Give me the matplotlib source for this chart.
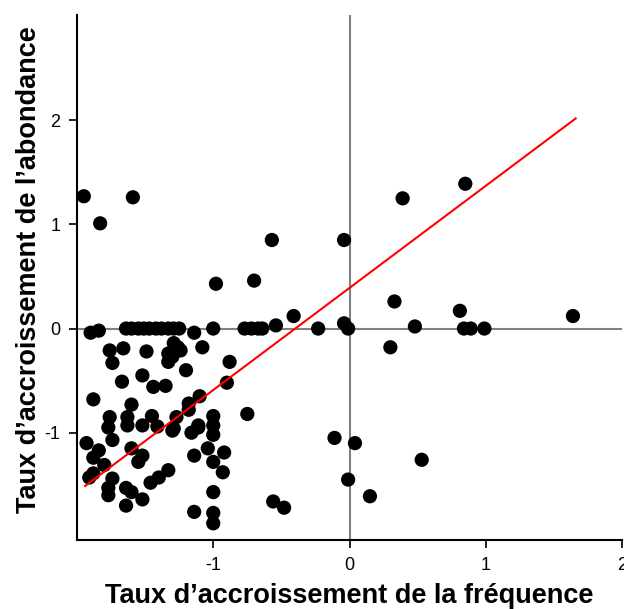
import matplotlib
matplotlib.use("Agg")
import matplotlib.pyplot as plt
import numpy as np

plt.rcParams['font.family'] = ['Liberation Sans', 'DejaVu Sans']

# Growth rate of frequency (x) and of abundance (y) per species
x_freq = [-1.95, -1.83, -1.59, -0.57, -0.98, -0.70, -0.04, 0.39, 0.85, -0.41,
          0.33, 0.81, 1.64, 0.48, 0.84, 0.89, 0.99, 0.30, -0.23, -0.04,
          -0.01, -0.54, -0.77, -0.72, -0.67, -0.64, -1.00, -1.64, -1.60, -1.55,
          -1.51, -1.47, -1.42, -1.38, -1.33, -1.29, -1.25, -1.90, -1.84,
          -1.76, -1.66, -1.74, -1.49, -1.29, -1.33, -1.33, -1.52, -1.67, -1.44,
          -1.35, -1.88, -1.60, -1.76, -1.63, -1.45,
          -1.14, -1.26, -1.24, -1.08, -1.30, -0.88, -1.20, -0.90, -1.10, -1.18,
          -1.18, -1.27, -0.75, -1.00, -1.11,
          -1.77, -1.63, -1.52, -1.41, -1.29, -1.93, -1.74, -1.84, -1.88, -1.60,
          -1.52, -1.55, -1.80, -1.88, -1.91, -1.74, -1.77, -1.77, -1.64, -1.60,
          -1.52, -1.64, -1.46, -1.40, -1.33,
          -1.30, -1.16, -1.11, -1.00, -1.00, -1.04, -0.92, -1.14, -1.00, -0.93,
          -1.00, -1.14, -1.00, -1.00, -0.56,
          -0.11, 0.04, 0.53, -0.01, 0.15, -0.48]
y_abund = [1.27, 1.01, 1.26, 0.85, 0.43, 0.46, 0.85, 1.25, 1.39, 0.12,
           0.26, 0.17, 0.12, 0.02, 0.0, 0.0, 0.0, -0.18, 0.0, 0.05,
           0.0, 0.03, 0.0, 0.0, 0.0, 0.0, 0.0, 0.0, 0.0, 0.0,
           0.0, 0.0, 0.0, 0.0, 0.0, 0.0, 0.0, -0.04, -0.02,
           -0.21, -0.19, -0.33, -0.22, -0.14, -0.24, -0.32, -0.45, -0.51, -0.56,
           -0.55, -0.68, -0.73, -0.85, -0.85, -0.84,
           -0.04, -0.18, -0.21, -0.18, -0.27, -0.32, -0.40, -0.52, -0.65, -0.72,
           -0.78, -0.85, -0.82, -0.84, -0.93,
           -0.95, -0.93, -0.93, -0.94, -0.96, -1.10, -1.07, -1.17, -1.24, -1.15,
           -1.22, -1.28, -1.31, -1.39, -1.43, -1.44, -1.53, -1.60, -1.53, -1.57,
           -1.64, -1.70, -1.48, -1.43, -1.36,
           -0.98, -1.00, -0.95, -0.93, -1.02, -1.15, -1.19, -1.22, -1.28, -1.38,
           -1.57, -1.76, -1.77, -1.87, -1.66,
           -1.05, -1.10, -1.26, -1.45, -1.61, -1.72]

# Regression line
reg_slope = 0.98
reg_intercept = 0.39
reg_x_range = [-1.94, 1.66]

x_ticks = [-1, 0, 1, 2]
y_ticks = [-1, 0, 1, 2]
x_label = "Taux d\u2019accroissement de la fr\u00e9quence"
y_label = "Taux d\u2019accroissement de l\u2019abondance"

fig = plt.figure(figsize=(6.24, 6.09), dpi=100)
ax = fig.add_axes([77/624, 69/609, (622-77)/624, (540-15)/609])

ax.axhline(0, color='#808080', lw=1.5, zorder=1)
ax.axvline(0, color='#808080', lw=1.5, zorder=1)

ax.scatter(x_freq, y_abund, s=105, color='black', edgecolors='none', zorder=3)

lx = np.array(reg_x_range)
ax.plot(lx, reg_intercept + reg_slope * lx, color='#ff0000', lw=1.5, zorder=4)

ax.set_xlim(-2.0, 2.0)
ax.set_ylim(-2.03, 3.01)
ax.set_xticks(x_ticks)
ax.set_yticks(y_ticks)
ax.set_xticklabels([str(t) for t in x_ticks])
ax.set_yticklabels([str(t) for t in y_ticks])

for s in ['top', 'right']:
    ax.spines[s].set_visible(False)
for s in ['left', 'bottom']:
    ax.spines[s].set_linewidth(1.5)
ax.tick_params(axis='both', direction='out', length=6, width=1.2, labelsize=13, pad=6)

ax.set_xlabel(x_label, fontsize=19.5, fontweight='bold', labelpad=6.5)
ax.set_ylabel(y_label, fontsize=19.5, fontweight='bold')
ax.yaxis.set_label_coords(-0.064, 0.515)

fig.savefig("out.png", dpi=100)
